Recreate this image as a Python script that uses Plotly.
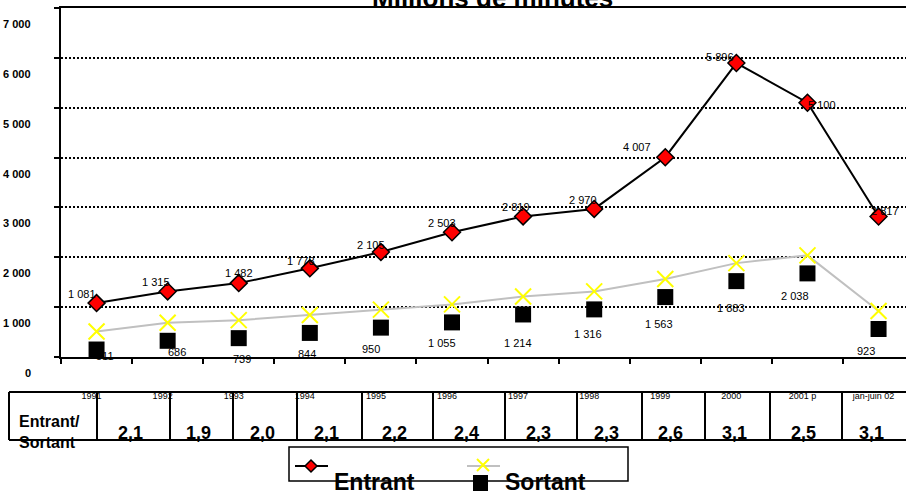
import plotly.graph_objects as go

# data
years = ['1991', '1992', '1993', '1994', '1995', '1996', '1997', '1998',
         '1999', '2000', '2001 p', 'jan-juin 02']
entrant = [1081, 1315, 1482, 1778, 2105, 2503, 2819, 2970, 4007, 5896, 5100, 2817]
sortant = [511, 686, 739, 844, 950, 1055, 1214, 1316, 1563, 1883, 2038, 923]
ratio = [2.1, 1.9, 2.0, 2.1, 2.2, 2.4, 2.3, 2.3, 2.6, 3.1, 2.5, 3.1]
y_ticks = [0, 1000, 2000, 3000, 4000, 5000, 6000, 7000]

# label offsets in pixels (style only)
ent_dx = [-15, -12, 0, -9, -10, -10, -7, -11, -28, -16, 15, 6]
ent_dy = [-9, -9, -10, -7, -7, -9, -9, -9, -10, -6, 2, -6]
sor_dx = [8, 9, 3, -3, -10, -10, -5, -6, -6, -5, -12, -13]
sor_dy = [24, 29, 39, 39, 39, 39, 47, 43, 45, 45, 41, 40]

# table cell edges in pixels
table_edges = [9, 97, 170, 233, 297, 362, 433, 505, 577, 642, 705, 770, 842, 906]

W, H = 906, 491
L, R, T, B = 61, 906, 8, 357

FONT = 'Liberation Sans, Arial, sans-serif'
NARROW = 'Liberation Sans Narrow, Arial Narrow, Liberation Sans, Arial'


def px(x):
    return (x - L) / (R - L)


def py(y):
    return (B - y) / (B - T)


def fmt(v):
    return f'{v:,}'.replace(',', ' ')


fig = go.Figure()

fig.add_trace(go.Scatter(
    x=years, y=sortant, mode='lines+markers', name='Sortant',
    line=dict(color='#c0c0c0', width=2),
    marker=dict(symbol='x-thin', size=16, line=dict(color='#ffff00', width=2)),
    showlegend=False, hoverinfo='skip'))

fig.add_trace(go.Scatter(
    x=years, y=sortant, yaxis='y2', mode='markers', name='Sortant',
    marker=dict(symbol='square', size=16, color='black'),
    showlegend=False, hoverinfo='skip'))

fig.add_trace(go.Scatter(
    x=years, y=entrant, mode='lines+markers', name='Entrant',
    line=dict(color='black', width=2),
    marker=dict(symbol='diamond', size=13, color='#ff0000',
                line=dict(color='black', width=1.5)),
    showlegend=False, hoverinfo='skip'))

ann = []

# title, mostly cut by the top edge
ann.append(dict(text='<b>Millions de minutes</b>', xref='paper', yref='paper',
                x=px(492), y=py(15), xanchor='center', yanchor='bottom',
                showarrow=False, font=dict(size=26, color='black', family=FONT)))

# y tick labels, sitting below their gridlines
for v in y_ticks:
    ann.append(dict(text='<b>%s</b>' % fmt(v), xref='paper', yref='y',
                    x=px(33), y=v, yshift=-16, xanchor='right', yanchor='middle',
                    showarrow=False, font=dict(size=11, color='black', family=FONT)))

# category axis: annotations take the category index
for i, v in enumerate(entrant):
    ann.append(dict(text=fmt(v), x=i, y=v, xref='x', yref='y',
                    xshift=ent_dx[i], yshift=-ent_dy[i], showarrow=False,
                    xanchor='center', yanchor='middle',
                    font=dict(size=11, color='black', family=NARROW)))

for i, v in enumerate(sortant):
    ann.append(dict(text=fmt(v), x=i, y=v, xref='x', yref='y',
                    xshift=sor_dx[i], yshift=-sor_dy[i], showarrow=False,
                    xanchor='center', yanchor='middle',
                    font=dict(size=11, color='black', family=NARROW)))

# table under the chart
shapes = []
tb_top, tb_bot = 392, 440
for yy in (tb_top, tb_bot):
    shapes.append(dict(type='line', xref='paper', yref='paper',
                       x0=px(table_edges[0]), x1=px(table_edges[-1]),
                       y0=py(yy), y1=py(yy), line=dict(color='black', width=2)))
for e in table_edges[:-1]:
    shapes.append(dict(type='line', xref='paper', yref='paper',
                       x0=px(e), x1=px(e), y0=py(tb_top), y1=py(tb_bot),
                       line=dict(color='black', width=2)))

ann.append(dict(text='<b>Entrant/<br>Sortant</b>', xref='paper', yref='paper',
                x=px(17), y=py(432), xanchor='left', yanchor='middle', align='left',
                showarrow=False, font=dict(size=16, color='black', family=FONT)))

for i, r in enumerate(ratio):
    xc = (table_edges[i + 1] + table_edges[i + 2]) / 2 - 3
    ann.append(dict(text='<b>%s</b>' % f'{r:.1f}'.replace('.', ','),
                    xref='paper', yref='paper', x=px(xc), y=py(433),
                    xanchor='center', yanchor='middle', showarrow=False,
                    font=dict(size=18, color='black', family=FONT)))

# hand-made legend
shapes.append(dict(type='rect', xref='paper', yref='paper',
                   x0=px(289), x1=px(628), y0=py(447), y1=py(481),
                   line=dict(color='black', width=1.5)))
shapes.append(dict(type='line', xref='paper', yref='paper',
                   x0=px(295), x1=px(328), y0=py(466), y1=py(466),
                   line=dict(color='black', width=2)))
dcx, dcy, ds = 311, 466, 6
shapes.append(dict(type='path', xref='paper', yref='paper',
                   path='M %f %f L %f %f L %f %f L %f %f Z' % (
                       px(dcx - ds), py(dcy), px(dcx), py(dcy - ds),
                       px(dcx + ds), py(dcy), px(dcx), py(dcy + ds)),
                   fillcolor='#ff0000', line=dict(color='black', width=1.5)))
shapes.append(dict(type='line', xref='paper', yref='paper',
                   x0=px(467), x1=px(500), y0=py(466), y1=py(466),
                   line=dict(color='#c0c0c0', width=2)))
xcx, xcy, xs = 483, 465, 6
for sgn in (1, -1):
    shapes.append(dict(type='line', xref='paper', yref='paper',
                       x0=px(xcx - xs), x1=px(xcx + xs),
                       y0=py(xcy - sgn * xs), y1=py(xcy + sgn * xs),
                       line=dict(color='#ffff00', width=2)))
shapes.append(dict(type='rect', xref='paper', yref='paper',
                   x0=px(473), x1=px(488), y0=py(475), y1=py(491),
                   fillcolor='black', line=dict(width=0)))
for name, x0 in (('Entrant', 332), ('Sortant', 503)):
    ann.append(dict(text='<b>%s</b>' % name, xref='paper', yref='paper',
                    x=px(x0), y=py(482), xanchor='left', yanchor='middle',
                    showarrow=False, font=dict(size=23, color='black', family=FONT)))

fig.update_layout(
    width=W, height=H,
    margin=dict(l=L, r=W - R, t=T, b=H - B, autoexpand=False),
    paper_bgcolor='white', plot_bgcolor='white',
    font=dict(family=FONT, color='black'),
    showlegend=False,
    xaxis=dict(type='category', range=[-0.5, 11.386], automargin=False,
               showline=True, linecolor='black', linewidth=2, mirror=True,
               ticks='outside', tickson='boundaries', ticklen=5, tickwidth=1.5,
               tickcolor='black', tickfont=dict(size=9, color='black'),
               ticklabelstandoff=29, ticklabelshift=-5,
               showgrid=False, zeroline=False, fixedrange=True),
    yaxis=dict(range=[0, 7000], dtick=1000, showgrid=True, gridcolor='black',
               griddash='2px,2px', gridwidth=1.5, automargin=False,
               showline=True, linecolor='black', linewidth=2,
               ticks='outside', ticklen=5, tickwidth=1.5, tickcolor='black',
               showticklabels=False, zeroline=False, fixedrange=True),
    yaxis2=dict(overlaying='y', range=[361, 7361], visible=False, fixedrange=True),
    annotations=ann,
    shapes=shapes,
)

# the page body has an 8px margin by default; remove it so the chart sits at 0,0
fig.write_html('out.html', config={'displayModeBar': False},
               post_script="document.body.style.margin='0px';"
                           "document.body.style.overflow='hidden';")
